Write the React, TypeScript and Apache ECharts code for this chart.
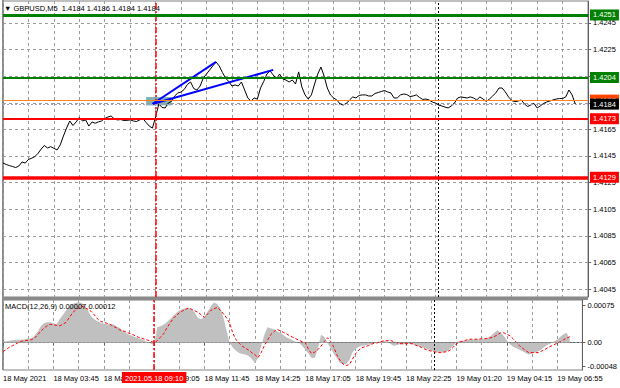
import { useEffect, useRef } from "react";
import * as echarts from "echarts";

const FONT = "'Liberation Sans', Arial, sans-serif";
const FONT_SIZE = 7.5;

// ---- x axis: M5 bars, one slot every two bars ----
const slotCount = 185;
const timeLabels = [
  "18 May 2021", "18 May 03:45", "18 May 06:25", "18 May 09:05", "18 May 11:45", "18 May 14:25",
  "18 May 17:05", "18 May 19:45", "18 May 22:25", "19 May 01:20", "19 May 04:15", "19 May 06:55",
];
const labelEvery = 16;
const gridEvery = 8;

// ---- price pane ----
const priceAxisMin = 1.4039;
const priceAxisMax = 1.42615;
const priceTicks = [1.4045, 1.4065, 1.4085, 1.4105, 1.4125, 1.4145, 1.4165, 1.4185, 1.4205, 1.4225, 1.4245];

const price = [
  1.41397, 1.41386, 1.41378, 1.41371, 1.41363, 1.41375, 1.41405, 1.41397, 1.41424, 1.41433,
  1.41445, 1.41469, 1.41502, 1.41529, 1.41510, 1.41520, 1.41508, 1.41495, 1.41533, 1.41600,
  1.41660, 1.41713, 1.41679, 1.41706, 1.41739, 1.41713, 1.41721, 1.41675, 1.41706, 1.41696,
  1.41706, 1.41713, 1.41732, 1.41743, 1.41751, 1.41728, 1.41721, 1.41724, 1.41717, 1.41718,
  1.41721, 1.41713, 1.41709, 1.41721, 1.41732, 1.41702, 1.41675, 1.41660, 1.41743, 1.41841,
  1.41815, 1.41811, 1.41848, 1.41860, 1.41901, 1.41924, 1.41931, 1.41950, 1.41988, 1.42006,
  1.41957, 1.41946, 1.41976, 1.42036, 1.42066, 1.42097, 1.42127, 1.42157, 1.42127, 1.42078,
  1.42036, 1.42010, 1.41976, 1.41984, 1.41976, 1.42006, 1.41946, 1.41886, 1.41863, 1.41886,
  1.41878, 1.41961, 1.42010, 1.42066, 1.42089, 1.42059, 1.42029, 1.42066, 1.42029, 1.42021,
  1.42006, 1.42021, 1.41991, 1.42082, 1.41969, 1.41909, 1.41878, 1.41909, 1.41991, 1.42066,
  1.42119, 1.42051, 1.41961, 1.41909, 1.41886, 1.41871, 1.41841, 1.41833, 1.41845, 1.41871,
  1.41894, 1.41886, 1.41905, 1.41909, 1.41909, 1.41901, 1.41901, 1.41920, 1.41927, 1.41935,
  1.41942, 1.41931, 1.41924, 1.41886, 1.41886, 1.41909, 1.41916, 1.41912, 1.41897, 1.41901,
  1.41909, 1.41890, 1.41875, 1.41878, 1.41871, 1.41856, 1.41848, 1.41833, 1.41826, 1.41818,
  1.41811, 1.41826, 1.41848, 1.41886, 1.41894, 1.41890, 1.41886, 1.41894, 1.41886, 1.41871,
  1.41894, 1.41878, 1.41860, 1.41878, 1.41901, 1.41924, 1.41961, 1.41961, 1.41931, 1.41894,
  1.41867, 1.41858, 1.41863, 1.41871, 1.41841, 1.41822, 1.41833, 1.41845, 1.41811, 1.41826,
  1.41845, 1.41856, 1.41863, 1.41871, 1.41878, 1.41882, 1.41882, 1.41894, 1.41946, 1.41909,
  1.41840,
];

const resistanceMajor = 1.4251;
const resistanceMinor = 1.4204;
const entryLevel = 1.4187;
const bidLevel = 1.4184;
const supportMinor = 1.4173;
const supportMajor = 1.4129;

const trendStart = [47, 1.41841];
const trendEnds = [
  [67, 1.42157],
  [85, 1.42097],
];
const zoneSlots = [45, 53];
const zonePrices = [1.4183, 1.41893];

const cursorSlot = 48;
const cursorLabel = "2021.05.18 09:10";
const daySeparatorSlot = 137;

const headerText = "\u25BC GBPUSD,M5  1.4184 1.4186 1.4184 1.4184";

// ---- MACD pane ----
const macdTitle = "MACD(12,26,9) 0.00007 0.00012";
const macdAxisMin = -0.00055;
const macdAxisMax = 0.00086;
const macdTicks = [-0.00048, 0, 0.00075];

const macdHist = [
  0.00002, 0.00003, 0.00004, 0.00005, 0.00006, 0.00006, 0.00006, 0.00007, 0.00008, 0.00009,
  0.00014, 0.00022, 0.00033, 0.00039, 0.00041, 0.00041, 0.00039, 0.00037, 0.00047, 0.00056,
  0.00065, 0.00072, 0.00078, 0.0008, 0.00082, 0.0008, 0.00074, 0.00065, 0.00053, 0.00047,
  0.00043, 0.0004, 0.00038, 0.00037, 0.00037, 0.00037, 0.00033, 0.0003, 0.00024, 0.0002,
  0.00016, 0.00014, 0.00011, 0.00009, 0.00007, 0.00004, 0.00001, -0.00002, -0.00003, 0.00031,
  0.00033, 0.00036, 0.00041, 0.00047, 0.00054, 0.0006, 0.00065, 0.00068, 0.0007, 0.0007,
  0.00067, 0.0006, 0.00049, 0.00047, 0.00053, 0.00063, 0.00073, 0.00081, 0.00078, 0.0007,
  0.00051, 0.00024, 0.0, -0.0001, -0.00016, -0.00021, -0.00023, -0.00024, -0.00027, -0.00033,
  -0.00041, -0.00031, -0.00006, 0.00016, 0.00031, 0.00029, 0.00027, 0.00023, 0.0002, 0.00016,
  0.00011, 0.00008, 0.00005, 0.00002, 0.0, -0.00006, -0.00014, -0.00022, -0.00031, -0.00031,
  -0.00012, 0.00016, 0.00012, 0.0, -0.0001, -0.00022, -0.00031, -0.00041, -0.00043, -0.00043,
  -0.00035, -0.00019, -0.00012, -0.00008, -0.00006, -0.00005, -0.00004, -0.00003, 0.0, 0.00002,
  0.00003, 0.00003, 0.00003, -0.00002, -0.00006, -0.00005, -0.00003, -0.00003, -0.00002, -0.00002,
  -0.00003, -0.00005, -0.00007, -0.00009, -0.00011, -0.00013, -0.00015, -0.00017, -0.00019, -0.0002,
  -0.00019, -0.00017, -0.00012, -0.00006, 0.00001, 0.00004, 0.00004, 0.00005, 0.00006, 0.00006,
  0.00007, 0.00007, 0.00007, 0.00007, 0.0001, 0.00014, 0.0002, 0.00025, 0.0002, 0.00014,
  0.00005, -0.00003, -0.00008, -0.00011, -0.00014, -0.00017, -0.00021, -0.00024, -0.00022, -0.0002,
  -0.00017, -0.00013, -0.00008, -0.00004, -0.00001, 0.00003, 0.00006, 0.00012, 0.00017, 0.0002,
  0.00007,
];

const macdSignal = [
  -0.00018, -0.00014, -0.00009, -0.00006, -0.00003, 0.00001, 0.00003, 0.00004, 0.00005, 0.00006,
  0.00009, 0.00016, 0.00023, 0.00029, 0.00034, 0.00037, 0.00036, 0.00035, 0.00034, 0.00037,
  0.00041, 0.0005, 0.00059, 0.00066, 0.0007, 0.00074, 0.00071, 0.00067, 0.00063, 0.00056,
  0.00048, 0.00043, 0.00041, 0.00039, 0.00037, 0.00033, 0.0003, 0.00026, 0.00024, 0.00022,
  0.00019, 0.00017, 0.00014, 0.00011, 0.00009, 0.00007, 0.00005, 0.00003, 0.0, 0.00004,
  0.00011, 0.00018, 0.00029, 0.00039, 0.00048, 0.00055, 0.0006, 0.00064, 0.00067, 0.0007,
  0.00067, 0.00064, 0.00061, 0.00056, 0.00051, 0.00058, 0.00065, 0.00068, 0.00071, 0.00066,
  0.00058, 0.0005, 0.00039, 0.00019, 0.00006, -0.00001, -0.00007, -0.00011, -0.00015, -0.0002,
  -0.00024, -0.0003, -0.0002, -0.00006, 0.00005, 0.00016, 0.00022, 0.00027, 0.00024, 0.00021,
  0.00018, 0.00014, 0.00011, 0.00008, 0.00005, 0.00002, 0.0, -0.00013, -0.00022, -0.00019,
  -0.00014, -0.00007, 0.00002, 0.0001, 0.00003, -0.00008, -0.00024, -0.00035, -0.00043, -0.00046,
  -0.00044, -0.00033, -0.00022, -0.00015, -0.0001, -0.00008, -0.00006, -0.00003, -0.00001, 0.0,
  0.00002, 0.00004, 0.00004, 0.00005, 0.00002, 0.0, -0.00002, -0.00002, -0.00002, -0.00002,
  -0.00002, -0.00005, -0.00007, -0.0001, -0.00013, -0.00015, -0.00017, -0.00018, -0.0002, -0.0002,
  -0.00019, -0.00018, -0.00015, -0.00009, -0.00002, 0.00001, 0.00003, 0.00005, 0.00007, 0.00007,
  0.00007, 0.00007, 0.00008, 0.00008, 0.00009, 0.0001, 0.00012, 0.00016, 0.0002, 0.0002,
  0.00017, 0.00014, 0.00008, 0.00001, -0.00006, -0.00011, -0.00016, -0.0002, -0.0002, -0.0002,
  -0.0002, -0.00017, -0.00014, -0.0001, -0.00007, -0.00004, -0.00001, 0.00002, 0.00006, 0.00009,
  0.00012,
];

const slots = Array.from({ length: slotCount }, (_, i) => String(i));

const GRID_COLOR = "#9c9c9c";
const gridLine = () => ({ color: GRID_COLOR, type: [3, 3], width: 1, opacity: 1 });
const TEXT = { fontFamily: FONT, fontSize: FONT_SIZE, color: "#000" };
const cursorLine = () => ({ color: "#ff0000", width: 1.5, type: [6, 2, 2, 2], opacity: 1 });
const separatorLine = () => ({ color: "#000000", width: 1, type: [2, 2], opacity: 1 });

function levelLine(value: number, color: string, width: number, boxColor: string, type: any = "solid") {
  return {
    yAxis: value,
    lineStyle: { color, width, type, opacity: 1 },
    label: {
      show: true,
      position: "end",
      distance: 2,
      formatter: value.toFixed(4),
      backgroundColor: boxColor,
      color: "#fff",
      padding: [2, 3, 1, 3],
      fontFamily: FONT,
      fontSize: FONT_SIZE,
    },
  };
}

export default function App() {
  const ref = useRef<HTMLDivElement>(null);

  useEffect(() => {
    const chart = echarts.init(ref.current!, null, { renderer: "svg" });
    const option: any = {
      animation: false,
      backgroundColor: "#ffffff",
      title: [
        { text: headerText, left: 4, top: 4, padding: 0, textStyle: { ...TEXT, fontWeight: "normal" } },
        { text: macdTitle, left: 5, top: 302, padding: 0, textStyle: { ...TEXT, fontWeight: "normal" } },
      ],
      grid: [
        { left: 3, right: 32, top: 1, height: 296, show: true, borderColor: "#808080", borderWidth: 1 },
        { left: 3, right: 32, top: 300, height: 70, show: true, borderColor: "#808080", borderWidth: 1 },
      ],
      graphic: [
        // pane separator bar and left frame (window chrome)
        { type: "rect", left: 3, top: 297, shape: { width: 585, height: 3 }, style: { fill: "#8a8a8a" }, silent: true },
        { type: "rect", left: 2, top: 0, shape: { width: 2, height: 370 }, style: { fill: "#8a8a8a" }, silent: true },
      ],
      xAxis: [
        {
          type: "category",
          gridIndex: 0,
          data: slots,
          boundaryGap: false,
          axisLine: { show: false },
          axisTick: { show: false },
          axisLabel: { show: false },
          splitLine: { show: true, interval: gridEvery - 1, lineStyle: gridLine() },
        },
        {
          type: "category",
          gridIndex: 1,
          data: slots,
          boundaryGap: false,
          axisLine: { show: true, lineStyle: { color: "#606060" } },
          axisTick: { show: true, interval: labelEvery - 1, length: 3, lineStyle: { color: "#606060" } },
          axisLabel: {
            ...TEXT,
            interval: labelEvery - 1,
            align: "left",
            margin: 4,
            formatter: (v: string) => {
              const i = Number(v);
              return i % labelEvery === 0 ? timeLabels[i / labelEvery] ?? "" : "";
            },
          },
          splitLine: { show: true, interval: gridEvery - 1, lineStyle: gridLine() },
        },
      ],
      yAxis: [
        {
          type: "value",
          gridIndex: 0,
          position: "right",
          min: priceAxisMin,
          max: priceAxisMax,
          axisLine: { show: true, lineStyle: { color: "#606060", width: 1 } },
          axisTick: { show: true, length: 3, customValues: priceTicks, lineStyle: { color: "#606060" } },
          axisLabel: { ...TEXT, margin: 5, customValues: priceTicks, formatter: (v: number) => v.toFixed(4) },
          splitLine: { show: false },
        },
        {
          type: "value",
          gridIndex: 1,
          position: "right",
          min: macdAxisMin,
          max: macdAxisMax,
          axisLine: { show: true, lineStyle: { color: "#606060", width: 1 } },
          axisTick: { show: true, length: 3, customValues: macdTicks, lineStyle: { color: "#606060" } },
          axisLabel: {
            ...TEXT,
            margin: 5,
            customValues: macdTicks,
            formatter: (v: number) => (Math.abs(v) < 1e-9 ? "0.00" : v.toFixed(5)),
          },
          splitLine: { show: false },
        },
      ],
      series: [
        {
          // invisible copy of the price series carrying the horizontal grid at the tick values
          type: "line",
          name: "priceGrid",
          xAxisIndex: 0,
          yAxisIndex: 0,
          data: price,
          symbol: "none",
          silent: true,
          color: GRID_COLOR,
          lineStyle: { width: 0 },
          z: 1,
          markLine: {
            silent: true,
            z: 1,
            precision: 5,
            symbol: ["none", "none"],
            label: { show: false },
            lineStyle: gridLine(),
            data: priceTicks.map((v) => ({ yAxis: v, lineStyle: gridLine() })),
          },
        },
        {
          type: "line",
          name: "GBPUSD",
          xAxisIndex: 0,
          yAxisIndex: 0,
          data: price,
          symbol: "none",
          color: "#000",
          lineStyle: { color: "#000", width: 1 },
          z: 3,
          markArea: {
            silent: true,
            itemStyle: { color: "#5f9ea0", opacity: 0.8 },
            data: [[{ xAxis: zoneSlots[0], yAxis: zonePrices[0] }, { xAxis: zoneSlots[1], yAxis: zonePrices[1] }]],
          },
          markLine: {
            silent: true,
            precision: 5,
            symbol: ["none", "none"],
            label: { show: false },
            data: [
              { xAxis: cursorSlot, lineStyle: cursorLine() },
              { xAxis: daySeparatorSlot, lineStyle: separatorLine() },
              [
                { coord: trendStart, lineStyle: { color: "#0000ff", width: 2, type: "solid", opacity: 1 } },
                { coord: trendEnds[0] },
              ],
              [
                { coord: trendStart, lineStyle: { color: "#0000ff", width: 2, type: "solid", opacity: 1 } },
                { coord: trendEnds[1] },
              ],
              levelLine(resistanceMajor, "#008000", 3, "#008000"),
              levelLine(resistanceMinor, "#008000", 2, "#008000"),
              levelLine(entryLevel, "#ff7f27", 1, "#ff4500"),
              levelLine(supportMinor, "#ff0000", 2, "#ff0000"),
              levelLine(supportMajor, "#ff0000", 3.5, "#ff0000"),
              levelLine(bidLevel, "#a8a0c0", 1, "#000000", [2, 2]),
            ],
          },
        },
        {
          type: "line",
          name: "MACD",
          xAxisIndex: 1,
          yAxisIndex: 1,
          data: macdHist,
          symbol: "none",
          color: "#c0c0c0",
          lineStyle: { width: 0, color: "#c0c0c0" },
          areaStyle: { color: "#c0c0c0", opacity: 1 },
          z: 2,
          markLine: {
            silent: true,
            precision: 6,
            symbol: ["none", "none"],
            label: { show: false },
            data: [
              { yAxis: 0, lineStyle: { color: "#909090", width: 1, type: [2, 2], opacity: 1 } },
              { xAxis: daySeparatorSlot, lineStyle: separatorLine() },
              {
                xAxis: cursorSlot,
                lineStyle: cursorLine(),
                label: {
                  show: true,
                  position: "start",
                  distance: 2,
                  formatter: cursorLabel,
                  backgroundColor: "#ff0000",
                  color: "#fff",
                  padding: [2, 3, 1, 3],
                  fontFamily: FONT,
                  fontSize: FONT_SIZE,
                },
              },
            ],
          },
        },
        {
          type: "line",
          name: "Signal",
          xAxisIndex: 1,
          yAxisIndex: 1,
          data: macdSignal,
          symbol: "none",
          color: "#ff0000",
          lineStyle: { color: "#ff0000", width: 1, type: [3, 2] },
          z: 3,
        },
      ],
    };
    chart.setOption(option);
    return () => chart.dispose();
  }, []);

  return (
    <div
      ref={ref}
      style={{ position: "fixed", left: 0, top: 0, width: 620, height: 388, background: "#fff" }}
    />
  );
}
